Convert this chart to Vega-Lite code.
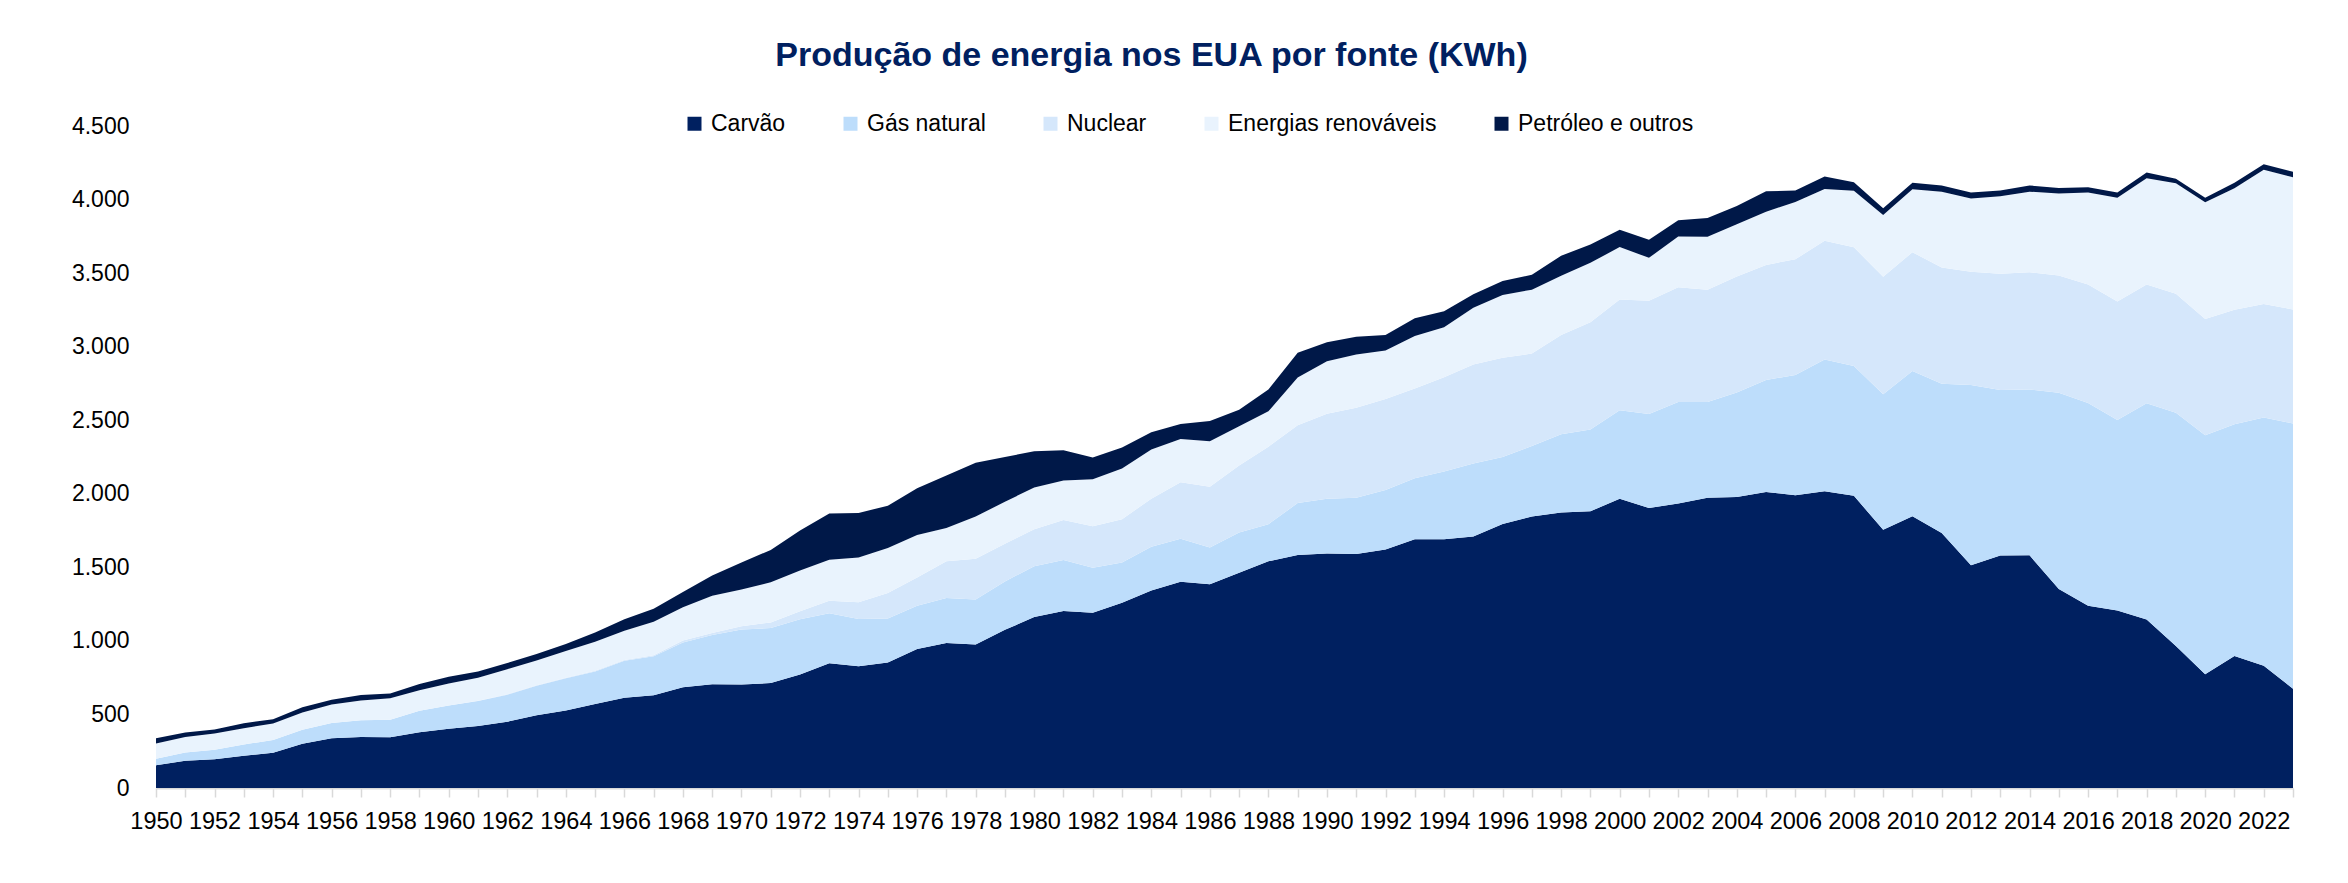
{
  "$schema": "https://vega.github.io/schema/vega-lite/v6.json",
  "width": 2137,
  "height": 662,
  "autosize": {"type": "none"},
  "padding": {"left": 156, "top": 126, "right": 55, "bottom": 95},
  "background": "white",
  "title": {
    "text": "Produção de energia nos EUA por fonte (KWh)",
    "font": "Liberation Sans",
    "fontSize": 34,
    "fontWeight": "bold",
    "color": "#002060",
    "anchor": "middle",
    "frame": "group",
    "baseline": "alphabetic",
    "dx": -73,
    "offset": 12
  },
  "config": {
    "view": {"stroke": null},
    "font": "Liberation Sans"
  },
  "datasets": {
    "ordem": [
      {"fonte": "Carvão", "ordem": 1},
      {"fonte": "Gás natural", "ordem": 2},
      {"fonte": "Nuclear", "ordem": 3},
      {"fonte": "Energias renováveis", "ordem": 4},
      {"fonte": "Petróleo e outros", "ordem": 5}
    ],
    "energia": [
      {"ano": 1950, "Carvão": 154.5, "Gás natural": 44.6, "Nuclear": 0, "Energias renováveis": 104, "Petróleo e outros": 35},
      {"ano": 1951, "Carvão": 185.2, "Gás natural": 56.8, "Nuclear": 0, "Energias renováveis": 105, "Petróleo e outros": 31},
      {"ano": 1952, "Carvão": 195.2, "Gás natural": 65, "Nuclear": 0, "Energias renováveis": 110, "Petróleo e outros": 28},
      {"ano": 1953, "Carvão": 218.8, "Gás natural": 77, "Nuclear": 0, "Energias renováveis": 111, "Petróleo e outros": 34},
      {"ano": 1954, "Carvão": 239.1, "Gás natural": 88, "Nuclear": 0, "Energias renováveis": 112, "Petróleo e outros": 28},
      {"ano": 1955, "Carvão": 301.4, "Gás natural": 95.3, "Nuclear": 0, "Energias renováveis": 116, "Petróleo e outros": 36},
      {"ano": 1956, "Carvão": 338.5, "Gás natural": 104, "Nuclear": 0, "Energias renováveis": 125, "Petróleo e outros": 33},
      {"ano": 1957, "Carvão": 346.4, "Gás natural": 114.1, "Nuclear": 0, "Energias renováveis": 134, "Petróleo e outros": 37},
      {"ano": 1958, "Carvão": 344.4, "Gás natural": 120, "Nuclear": 0.2, "Energias renováveis": 145, "Petróleo e outros": 32},
      {"ano": 1959, "Carvão": 378.4, "Gás natural": 146.6, "Nuclear": 0.2, "Energias renováveis": 140, "Petróleo e outros": 42},
      {"ano": 1960, "Carvão": 403.1, "Gás natural": 158, "Nuclear": 0.5, "Energias renováveis": 148, "Petróleo e outros": 47},
      {"ano": 1961, "Carvão": 422, "Gás natural": 169.3, "Nuclear": 1.7, "Energias renováveis": 156, "Petróleo e outros": 43},
      {"ano": 1962, "Carvão": 450.2, "Gás natural": 184.3, "Nuclear": 2.3, "Energias renováveis": 171, "Petróleo e outros": 42},
      {"ano": 1963, "Carvão": 493.9, "Gás natural": 201.6, "Nuclear": 3.2, "Energias renováveis": 168, "Petróleo e outros": 44},
      {"ano": 1964, "Carvão": 526.2, "Gás natural": 220, "Nuclear": 3.3, "Energias renováveis": 182, "Petróleo e outros": 48},
      {"ano": 1965, "Carvão": 570.9, "Gás natural": 221.6, "Nuclear": 3.7, "Energias renováveis": 198, "Petróleo e outros": 63},
      {"ano": 1966, "Carvão": 613.5, "Gás natural": 251.2, "Nuclear": 5.5, "Energias renováveis": 199, "Petróleo e outros": 78},
      {"ano": 1967, "Carvão": 630.5, "Gás natural": 264.8, "Nuclear": 7.7, "Energias renováveis": 227, "Petróleo e outros": 88},
      {"ano": 1968, "Carvão": 684.9, "Gás natural": 304.4, "Nuclear": 12.5, "Energias renováveis": 227, "Petróleo e outros": 104},
      {"ano": 1969, "Carvão": 706, "Gás natural": 333.3, "Nuclear": 13.9, "Energias renováveis": 253, "Petróleo e outros": 138},
      {"ano": 1970, "Carvão": 704.4, "Gás natural": 372.9, "Nuclear": 21.8, "Energias renováveis": 251, "Petróleo e outros": 182},
      {"ano": 1971, "Carvão": 713.1, "Gás natural": 374, "Nuclear": 38.1, "Energias renováveis": 273, "Petróleo e outros": 220},
      {"ano": 1972, "Carvão": 771.1, "Gás natural": 375.7, "Nuclear": 54.1, "Energias renováveis": 277, "Petróleo e outros": 272},
      {"ano": 1973, "Carvão": 847.7, "Gás natural": 340.9, "Nuclear": 83.5, "Energias renováveis": 280, "Petróleo e outros": 313},
      {"ano": 1974, "Carvão": 828.4, "Gás natural": 320.1, "Nuclear": 114, "Energias renováveis": 305, "Petróleo e outros": 302},
      {"ano": 1975, "Carvão": 852.8, "Gás natural": 299.8, "Nuclear": 172.5, "Energias renováveis": 306, "Petróleo e outros": 288},
      {"ano": 1976, "Carvão": 944.4, "Gás natural": 294.6, "Nuclear": 191.1, "Energias renováveis": 289, "Petróleo e outros": 319},
      {"ano": 1977, "Carvão": 985.2, "Gás natural": 305.5, "Nuclear": 250.9, "Energias renováveis": 226, "Petróleo e outros": 357},
      {"ano": 1978, "Carvão": 975.7, "Gás natural": 305.4, "Nuclear": 276.4, "Energias renováveis": 288, "Petróleo e outros": 366},
      {"ano": 1979, "Carvão": 1075, "Gás natural": 329.5, "Nuclear": 255.2, "Energias renováveis": 286, "Petróleo e outros": 305},
      {"ano": 1980, "Carvão": 1161.6, "Gás natural": 346.2, "Nuclear": 251.1, "Energias renováveis": 284, "Petróleo e outros": 246},
      {"ano": 1981, "Carvão": 1203.2, "Gás natural": 346, "Nuclear": 272.7, "Energias renováveis": 269, "Petróleo e outros": 205},
      {"ano": 1982, "Carvão": 1192, "Gás natural": 305.3, "Nuclear": 282.8, "Energias renováveis": 318, "Petróleo e outros": 148},
      {"ano": 1983, "Carvão": 1259.4, "Gás natural": 274.1, "Nuclear": 293.7, "Energias renováveis": 344, "Petróleo e outros": 144},
      {"ano": 1984, "Carvão": 1341.7, "Gás natural": 297.4, "Nuclear": 327.6, "Energias renováveis": 334, "Petróleo e outros": 118},
      {"ano": 1985, "Carvão": 1402.1, "Gás natural": 291.9, "Nuclear": 383.7, "Energias renováveis": 295, "Petróleo e outros": 102},
      {"ano": 1986, "Carvão": 1385.8, "Gás natural": 248.5, "Nuclear": 414, "Energias renováveis": 309, "Petróleo e outros": 137},
      {"ano": 1987, "Carvão": 1463.8, "Gás natural": 272.6, "Nuclear": 455.3, "Energias renováveis": 268, "Petróleo e outros": 112},
      {"ano": 1988, "Carvão": 1540.7, "Gás natural": 252.8, "Nuclear": 527, "Energias renováveis": 240, "Petróleo e outros": 148},
      {"ano": 1989, "Carvão": 1583.8, "Gás natural": 352.8, "Nuclear": 529.4, "Energias renováveis": 325, "Petróleo e outros": 168},
      {"ano": 1990, "Carvão": 1594, "Gás natural": 372.8, "Nuclear": 576.9, "Energias renováveis": 357, "Petróleo e outros": 130},
      {"ano": 1991, "Carvão": 1590.6, "Gás natural": 381.6, "Nuclear": 612.6, "Energias renováveis": 362, "Petróleo e outros": 120},
      {"ano": 1992, "Carvão": 1621.2, "Gás natural": 404.1, "Nuclear": 618.8, "Energias renováveis": 330, "Petróleo e outros": 106},
      {"ano": 1993, "Carvão": 1690.1, "Gás natural": 414.9, "Nuclear": 610.3, "Energias renováveis": 358, "Petróleo e outros": 120},
      {"ano": 1994, "Carvão": 1690.7, "Gás natural": 460.2, "Nuclear": 640.4, "Energias renováveis": 341, "Petróleo e outros": 108},
      {"ano": 1995, "Carvão": 1709.4, "Gás natural": 496.1, "Nuclear": 673.4, "Energias renováveis": 385, "Petróleo e outros": 92},
      {"ano": 1996, "Carvão": 1795.2, "Gás natural": 455.1, "Nuclear": 674.7, "Energias renováveis": 427, "Petróleo e outros": 94},
      {"ano": 1997, "Carvão": 1845, "Gás natural": 479.4, "Nuclear": 628.6, "Energias renováveis": 434, "Petróleo e outros": 102},
      {"ano": 1998, "Carvão": 1873.5, "Gás natural": 531.3, "Nuclear": 673.7, "Energias renováveis": 404, "Petróleo e outros": 136},
      {"ano": 1999, "Carvão": 1881.1, "Gás natural": 556.4, "Nuclear": 728.3, "Energias renováveis": 404, "Petróleo e outros": 124},
      {"ano": 2000, "Carvão": 1966.3, "Gás natural": 601, "Nuclear": 753.9, "Energias renováveis": 356, "Petróleo e outros": 117},
      {"ano": 2001, "Carvão": 1903.9, "Gás natural": 639.1, "Nuclear": 768.8, "Energias renováveis": 292, "Petróleo e outros": 123},
      {"ano": 2002, "Carvão": 1933.1, "Gás natural": 691, "Nuclear": 780.1, "Energias renováveis": 345, "Petróleo e outros": 110},
      {"ano": 2003, "Carvão": 1973.7, "Gás natural": 649.9, "Nuclear": 763.7, "Energias renováveis": 360, "Petróleo e outros": 128},
      {"ano": 2004, "Carvão": 1978.3, "Gás natural": 710.1, "Nuclear": 788.5, "Energias renováveis": 355, "Petróleo e outros": 125},
      {"ano": 2005, "Carvão": 2012.9, "Gás natural": 761, "Nuclear": 782, "Energias renováveis": 362, "Petróleo e outros": 138},
      {"ano": 2006, "Carvão": 1990.5, "Gás natural": 816.4, "Nuclear": 787.2, "Energias renováveis": 390, "Petróleo e outros": 78},
      {"ano": 2007, "Carvão": 2016.5, "Gás natural": 896.6, "Nuclear": 806.4, "Energias renováveis": 352, "Petróleo e outros": 86},
      {"ano": 2008, "Carvão": 1985.8, "Gás natural": 883, "Nuclear": 806.2, "Energias renováveis": 385, "Petróleo e outros": 58},
      {"ano": 2009, "Carvão": 1755.9, "Gás natural": 921, "Nuclear": 798.9, "Energias renováveis": 420, "Petróleo e outros": 45},
      {"ano": 2010, "Carvão": 1847.3, "Gás natural": 987.7, "Nuclear": 807, "Energias renováveis": 428, "Petróleo e outros": 45},
      {"ano": 2011, "Carvão": 1733.4, "Gás natural": 1013.7, "Nuclear": 790.2, "Energias renováveis": 515, "Petróleo e outros": 44},
      {"ano": 2012, "Carvão": 1514, "Gás natural": 1225.9, "Nuclear": 769.3, "Energias renováveis": 498, "Petróleo e outros": 40},
      {"ano": 2013, "Carvão": 1581.1, "Gás natural": 1124.8, "Nuclear": 789, "Energias renováveis": 527, "Petróleo e outros": 40},
      {"ano": 2014, "Carvão": 1581.7, "Gás natural": 1126.6, "Nuclear": 797.2, "Energias renováveis": 548, "Petróleo e outros": 42},
      {"ano": 2015, "Carvão": 1352.4, "Gás natural": 1333.5, "Nuclear": 797.2, "Energias renováveis": 558, "Petróleo e outros": 38},
      {"ano": 2016, "Carvão": 1239.1, "Gás natural": 1378.3, "Nuclear": 805.7, "Energias renováveis": 625, "Petróleo e outros": 36},
      {"ano": 2017, "Carvão": 1205.8, "Gás natural": 1296.4, "Nuclear": 805, "Energias renováveis": 705, "Petróleo e outros": 36},
      {"ano": 2018, "Carvão": 1146, "Gás natural": 1469.1, "Nuclear": 807.1, "Energias renováveis": 722, "Petróleo e outros": 40},
      {"ano": 2019, "Carvão": 965, "Gás natural": 1585.8, "Nuclear": 809.4, "Energias renováveis": 750, "Petróleo e outros": 32},
      {"ano": 2020, "Carvão": 773.4, "Gás natural": 1624.2, "Nuclear": 789.9, "Energias renováveis": 795, "Petróleo e outros": 30},
      {"ano": 2021, "Carvão": 897.9, "Gás natural": 1575.5, "Nuclear": 778.2, "Energias renováveis": 825, "Petróleo e outros": 38},
      {"ano": 2022, "Carvão": 831.5, "Gás natural": 1687.1, "Nuclear": 772.2, "Energias renováveis": 912, "Petróleo e outros": 37},
      {"ano": 2023, "Carvão": 675.3, "Gás natural": 1802.1, "Nuclear": 775.4, "Energias renováveis": 898, "Petróleo e outros": 38}
    ]
  },
  "data": {"name": "energia"},
  "transform": [
    {"fold": ["Carvão", "Gás natural", "Nuclear", "Energias renováveis", "Petróleo e outros"], "as": ["fonte", "valor"]},
    {"lookup": "fonte", "from": {"data": {"name": "ordem"}, "key": "fonte", "fields": ["ordem"]}}
  ],
  "mark": {"type": "area", "interpolate": "linear"},
  "encoding": {
    "x": {
      "field": "ano",
      "type": "quantitative",
      "scale": {"domain": [1950, 2023], "nice": false, "zero": false},
      "axis": {
        "title": null,
        "tickCount": 73,
        "labelExpr": "datum.value % 2 === 0 ? '' + datum.value : ''",
        "labelOverlap": false,
        "labelFlush": false,
        "labelBound": false,
        "labelFont": "Liberation Sans",
        "labelFontSize": 23.5,
        "labelColor": "#000000",
        "labelPadding": 12,
        "tickSize": 9,
        "tickWidth": 1.5,
        "tickColor": "#D9D9D9",
        "domainColor": "#D9D9D9",
        "domainWidth": 2,
        "grid": false
      }
    },
    "y": {
      "field": "valor",
      "type": "quantitative",
      "stack": "zero",
      "scale": {"domain": [0, 4500], "nice": false},
      "axis": {
        "title": null,
        "values": [0, 500, 1000, 1500, 2000, 2500, 3000, 3500, 4000, 4500],
        "labelExpr": "replace(format(datum.value, ','), ',', '.')",
        "labelFont": "Liberation Sans",
        "labelFontSize": 23,
        "labelColor": "#000000",
        "labelPadding": 27,
        "domain": false,
        "ticks": false,
        "grid": false
      }
    },
    "color": {
      "field": "fonte",
      "type": "nominal",
      "scale": {
        "domain": ["Carvão", "Gás natural", "Nuclear", "Energias renováveis", "Petróleo e outros"],
        "range": ["#002060", "#BDDDFB", "#D5E7FB", "#E9F3FD", "#001848"]
      },
      "legend": {
        "title": null,
        "orient": "none",
        "direction": "horizontal",
        "legendX": 527,
        "legendY": -14,
        "padding": 0,
        "symbolType": "square",
        "symbolSize": 196,
        "symbolStrokeWidth": 0,
        "symbolOpacity": 1,
        "labelFont": "Liberation Sans",
        "labelFontSize": 23,
        "labelColor": "#000000",
        "labelOffset": 5,
        "columnPadding": 53,
        "labelLimit": 400
      }
    },
    "order": {"field": "ordem", "type": "quantitative", "sort": "ascending"}
  }
}
